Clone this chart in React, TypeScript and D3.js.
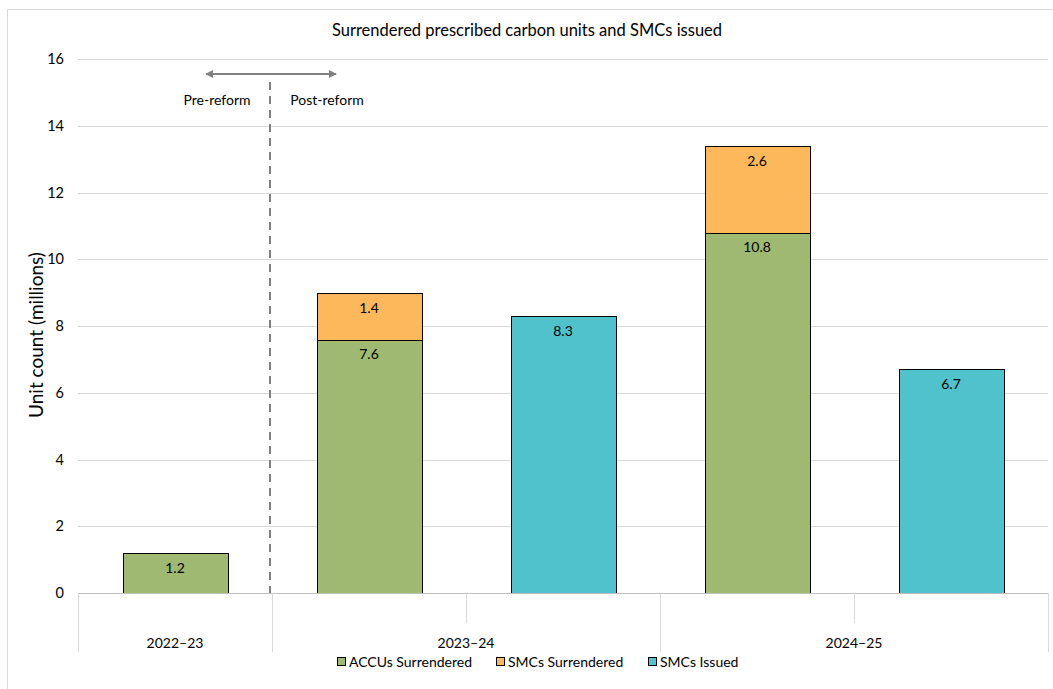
import * as d3 from 'd3'
import { useEffect, useRef } from 'react'

// slots along the x axis (one bar each)
const slotGroup = ['2022–23', '2023–24', '2023–24', '2024–25', '2024–25']
const groupNames = ['2022–23', '2023–24', '2024–25']
const accuSurrendered = [1.2, 7.6, 0, 10.8, 0]
const smcSurrendered = [0, 1.4, 0, 2.6, 0]
const smcIssued = [0, 0, 8.3, 0, 6.7]
const yTicks = [0, 2, 4, 6, 8, 10, 12, 14, 16]

const seriesNames = ['ACCUs Surrendered', 'SMCs Surrendered', 'SMCs Issued']
const seriesColors = ['#9fb970', '#fdb85c', '#50c2cb']

const W = 1053
const H = 689
const FONT = 'Lato, "Open Sans", sans-serif'

export default function App () {
  const svgRef = useRef(null)

  useEffect(() => {
    const svg = d3.select(svgRef.current)
    svg.selectAll('*').remove()

    const left = 78
    const right = 1048
    const top = 59
    const bottom = 593

    const x = d3.scaleBand().domain(d3.range(slotGroup.length).map(String))
      .range([left, right]).paddingInner(0.46).paddingOuter(0.23)
    const slotW = x.step()
    const y = d3.scaleLinear().domain([0, 16]).range([bottom, top])

    // chart border
    svg.append('rect').attr('x', 7.5).attr('y', 9.5).attr('width', 1100).attr('height', 800)
      .attr('fill', '#fff').attr('stroke', '#d9d9d9')

    svg.append('text').attr('x', 527).attr('y', 30).attr('dy', '0.35em').attr('text-anchor', 'middle')
      .attr('font-size', 16.5).attr('font-family', FONT).attr('fill', '#000')
      .text('Surrendered prescribed carbon units and SMCs issued')

    // grid
    svg.append('g').selectAll('line').data(yTicks.slice(1)).join('line')
      .attr('x1', left).attr('x2', right)
      .attr('y1', d => Math.round(y(d)) + 0.5).attr('y2', d => Math.round(y(d)) + 0.5)
      .attr('stroke', '#d9d9d9')

    svg.append('g').selectAll('text').data(yTicks).join('text')
      .attr('x', 64).attr('y', d => y(d)).attr('dy', '0.35em').attr('text-anchor', 'end')
      .attr('font-size', 14.5).attr('font-family', FONT).text(d => d)

    svg.append('text').attr('transform', `translate(36,${(top + bottom) / 2 + 9}) rotate(-90)`)
      .attr('text-anchor', 'middle').attr('dy', '0.35em').attr('font-size', 19).attr('font-family', FONT)
      .text('Unit count (millions)')

    // bars
    const stacks = [accuSurrendered, smcSurrendered, smcIssued]
    const barG = svg.append('g')
    slotGroup.forEach((_, i) => {
      let base = 0
      stacks.forEach((arr, s) => {
        const v = arr[i]
        if (!v) return
        const x0 = x(String(i))
        barG.append('rect').attr('x', Math.round(x0) + 0.5).attr('y', Math.round(y(base + v)) + 0.5)
          .attr('width', Math.round(x.bandwidth())).attr('height', Math.round(y(base) - y(base + v)))
          .attr('fill', seriesColors[s]).attr('stroke', '#000').attr('stroke-width', 1)
        barG.append('text').attr('x', x0 + x.bandwidth() / 2).attr('y', y(base + v) + 15)
          .attr('dy', '0.35em').attr('text-anchor', 'middle').attr('font-size', 14)
          .attr('font-family', FONT).text(v.toFixed(1))
        base += v
      })
    })

    // x axis line
    svg.append('line').attr('x1', left).attr('x2', right).attr('y1', bottom + 0.5).attr('y2', bottom + 0.5)
      .attr('stroke', '#bfbfbf')

    // group boundaries and inner ticks
    const bounds: number[] = []
    let acc = 0
    const groupRanges = groupNames.map(g => {
      const n = slotGroup.filter(s => s === g).length
      const r = [left + acc * slotW, left + (acc + n) * slotW]
      acc += n
      return r
    })
    groupRanges.forEach(r => { bounds.push(r[0]) })
    bounds.push(right)
    svg.append('g').selectAll('line').data(bounds).join('line')
      .attr('x1', d => Math.round(d) + 0.5).attr('x2', d => Math.round(d) + 0.5)
      .attr('y1', bottom).attr('y2', 652).attr('stroke', '#d9d9d9')
    const inner = d3.range(1, slotGroup.length).filter(i => slotGroup[i] === slotGroup[i - 1])
    svg.append('g').selectAll('line').data(inner).join('line')
      .attr('x1', d => Math.round(left + d * slotW) + 0.5).attr('x2', d => Math.round(left + d * slotW) + 0.5)
      .attr('y1', bottom).attr('y2', 623).attr('stroke', '#d9d9d9')
    svg.append('g').selectAll('text').data(groupNames).join('text')
      .attr('x', (d, i) => (groupRanges[i][0] + groupRanges[i][1]) / 2).attr('y', 643)
      .attr('dy', '0.35em').attr('text-anchor', 'middle').attr('font-size', 14)
      .attr('font-family', FONT).text(d => d)

    // reform annotation
    const divX = left + slotW - 2
    svg.append('line').attr('x1', divX).attr('x2', divX).attr('y1', 82).attr('y2', bottom)
      .attr('stroke', '#808080').attr('stroke-width', 2).attr('stroke-dasharray', '8,6')
    const defs = svg.append('defs')
    defs.append('marker').attr('id', 'ah').attr('viewBox', '0 0 10 10').attr('refX', 9).attr('refY', 5)
      .attr('markerWidth', 4).attr('markerHeight', 4).attr('orient', 'auto-start-reverse')
      .append('path').attr('d', 'M0,0L10,5L0,10z').attr('fill', '#808080')
    svg.append('line').attr('x1', divX - 64).attr('x2', divX + 66).attr('y1', 74).attr('y2', 74)
      .attr('stroke', '#808080').attr('stroke-width', 2)
      .attr('marker-start', 'url(#ah)').attr('marker-end', 'url(#ah)')
    svg.append('text').attr('x', divX - 53).attr('y', 100).attr('dy', '0.35em').attr('text-anchor', 'middle')
      .attr('font-size', 14).attr('font-family', FONT).text('Pre-reform')
    svg.append('text').attr('x', divX + 57).attr('y', 100).attr('dy', '0.35em').attr('text-anchor', 'middle')
      .attr('font-size', 14).attr('font-family', FONT).text('Post-reform')

    // legend
    const legX = [337, 496, 648]
    const leg = svg.append('g').selectAll('g').data(seriesNames).join('g')
      .attr('transform', (d, i) => `translate(${legX[i]},662)`)
    leg.append('rect').attr('x', 0.5).attr('y', -4.5).attr('width', 8).attr('height', 8)
      .attr('fill', (d, i) => seriesColors[i]).attr('stroke', '#000')
    leg.append('text').attr('x', 12).attr('y', 0).attr('dy', '0.35em').attr('font-size', 14)
      .attr('font-family', FONT).text(d => d)
  }, [])

  return (
    <svg ref={svgRef} width={W} height={H} style={{ position: 'absolute', left: 0, top: 0 }}></svg>
  )
}
